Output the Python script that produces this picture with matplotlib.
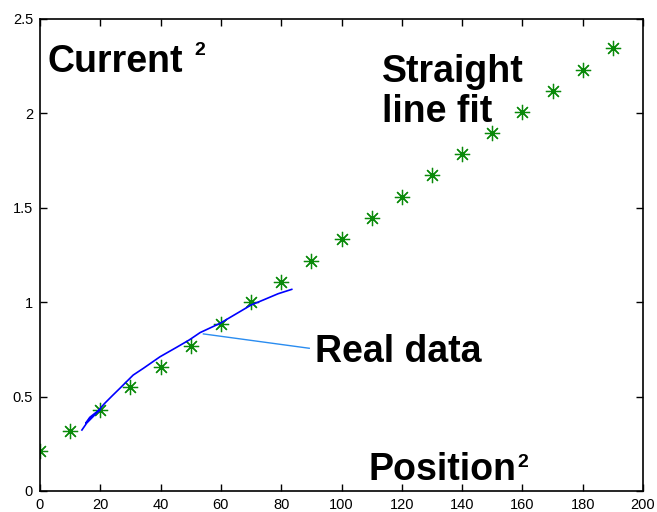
import matplotlib.pyplot as plt

# Straight line fit (green asterisks)
fit_x = [0, 10, 20, 30, 40, 50, 60, 70, 80, 90, 100, 110, 120, 130, 140, 150, 160, 170, 180, 190]
fit_y = [0.212, 0.318, 0.43, 0.55, 0.657, 0.768, 0.885, 1.0, 1.107, 1.218,
         1.335, 1.446, 1.557, 1.674, 1.785, 1.896, 2.007, 2.119, 2.23, 2.345]

# Real data (blue trace, with a small loop at the start)
real_x = [13.9, 15.5, 17.1, 18.6, 19.9, 18.5, 16.5, 15.2, 16.8, 19.0, 21.5, 24.0,
          26.5, 30.9, 34.3, 39.8, 45.3, 49.5, 53.1, 59.7, 66.3, 70.0, 74.1, 79.0, 83.5]
real_y = [0.323, 0.36, 0.386, 0.41, 0.43, 0.415, 0.39, 0.36, 0.385, 0.42, 0.465, 0.505,
          0.544, 0.614, 0.65, 0.711, 0.761, 0.80, 0.839, 0.888, 0.95, 0.985, 1.012, 1.045, 1.068]

# Pointer from the curve to the "Real data" label
pointer_x = [54.2, 89.3]
pointer_y = [0.832, 0.756]

xticks = [0, 20, 40, 60, 80, 100, 120, 140, 160, 180, 200]
yticks = [0, 0.5, 1, 1.5, 2, 2.5]

plt.rcParams['font.family'] = ['Liberation Sans', 'DejaVu Sans']

fig = plt.figure(figsize=(6.57, 5.12), dpi=100)
ax = fig.add_axes([40 / 657, 21 / 512, 603 / 657, 472 / 512])

ax.plot(fit_x, fit_y, linestyle='none', marker=(8, 2, 0), markersize=11,
        markeredgewidth=0.9, color='#0a8a0a')
ax.plot(real_x, real_y, color='#0000ff', linewidth=1.2)
ax.plot(pointer_x, pointer_y, color='#2a8cf0', linewidth=1.0)

bold = dict(fontsize=27, fontweight='bold', color='black', va='baseline')
sup = dict(fontsize=14, fontweight='bold', color='black', va='baseline')
ax.text(2.65, 2.22, 'Current', **bold)
ax.text(51.1, 2.309, '2', **sup)
ax.text(113.3, 2.166, 'Straight', **bold)
ax.text(113.3, 1.954, 'line fit', **bold)
ax.text(91.2, 0.683, 'Real data', **bold)
ax.text(109.1, 0.058, 'Position', **bold)
ax.text(158.3, 0.127, '2', **sup)

ax.set_xlim(0, 200)
ax.set_ylim(0, 2.5)
ax.set_xticks(xticks)
ax.set_yticks(yticks)
ax.set_xticklabels([str(t) for t in xticks])
ax.set_yticklabels(['0', '0.5', '1', '1.5', '2', '2.5'])
ax.tick_params(direction='in', length=5, width=1, top=True, right=True,
               labelsize=10.5, pad=5)
for s in ax.spines.values():
    s.set_linewidth(1.2)

fig.savefig('out.png', dpi=100)
